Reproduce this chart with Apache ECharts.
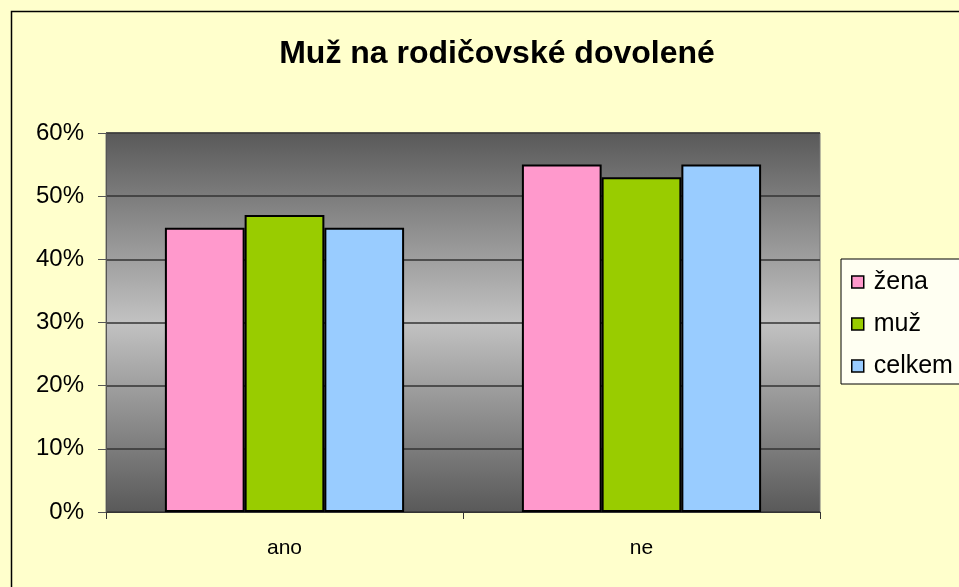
<!DOCTYPE html>
<html>
<head>
<meta charset="utf-8">
<script src="https://cdn.jsdelivr.net/npm/echarts@6/dist/echarts.min.js"></script>
<style>
  html, body { margin: 0; padding: 0; background: #ffffcc; }
  #chart { width: 959px; height: 587px; }
</style>
</head>
<body>
<div id="chart"></div>
<script>
var categories = ['ano', 'ne'];
var zena = [45, 55];
var muz = [47, 53];
var celkem = [45, 55];
var seriesNames = ['žena', 'muž', 'celkem'];

var myChart = echarts.init(document.getElementById('chart'));

// šedý přechod plochy grafu (tmavý nahoře a dole)
var plotFill = new echarts.graphic.LinearGradient(0, 0, 0, 1, [
  { offset: 0, color: '#595959' },
  { offset: 0.5, color: '#c2c2c2' },
  { offset: 1, color: '#595959' }
]);

var barStyle = function (color) {
  return { color: color, borderColor: '#000', borderWidth: 2 };
};

var option = {
  backgroundColor: '#ffffcc',
  animation: false,
  textStyle: { fontFamily: 'Liberation Sans, Arial, sans-serif' },
  title: {
    text: 'Muž na rodičovské dovolené',
    left: 492,
    top: 33,
    textAlign: 'center',
    textStyle: { fontSize: 32, fontWeight: 'bold', color: '#000' }
  },
  graphic: [
    {
      type: 'rect',
      left: 9, top: 9,
      shape: { width: 980, height: 600 },
      style: { fill: 'none', stroke: '#000', lineWidth: 1.5 },
      z: 100
    }
  ],
  legend: {
    data: seriesNames,
    orient: 'vertical',
    left: 841,
    top: 259,
    padding: [9, 40, 4, 10],
    itemGap: 14,
    itemWidth: 12,
    itemHeight: 12,
    icon: 'rect',
    backgroundColor: '#fffff2',
    borderColor: '#000',
    borderWidth: 1,
    textStyle: { fontSize: 25, color: '#000', lineHeight: 28, padding: [0, 0, 0, 5] },
    itemStyle: { borderColor: '#000', borderWidth: 1.5 }
  },
  grid: {
    left: 106,
    right: 139,
    top: 133,
    bottom: 75,
    show: true,
    backgroundColor: plotFill,
    borderColor: '#777',
    borderWidth: 1
  },
  xAxis: {
    type: 'category',
    data: categories,
    axisLine: { lineStyle: { color: '#333', width: 1 } },
    axisTick: { show: true, length: 7, lineStyle: { color: '#333' } },
    axisLabel: { fontSize: 21, color: '#000', margin: 26 }
  },
  yAxis: {
    type: 'value',
    min: 0,
    max: 60,
    interval: 10,
    axisLine: { show: true, lineStyle: { color: '#555', width: 1 } },
    axisTick: { show: true, length: 8, lineStyle: { color: '#555' } },
    axisLabel: {
      fontSize: 24, color: '#000', margin: 22,
      formatter: function (v) { return v + '%'; }
    },
    splitLine: { lineStyle: { color: '#333', width: 1.5 } }
  },
  series: [
    { name: 'žena', type: 'bar', data: zena, barGap: '0%', barCategoryGap: '33%', itemStyle: barStyle('#ff99cc') },
    { name: 'muž', type: 'bar', data: muz, barGap: '0%', barCategoryGap: '33%', itemStyle: barStyle('#99cc00') },
    { name: 'celkem', type: 'bar', data: celkem, barGap: '0%', barCategoryGap: '33%', itemStyle: barStyle('#99ccff') }
  ]
};

myChart.setOption(option);
window.addEventListener('resize', function () {
  myChart.resize();
});
</script>
</body>
</html>
